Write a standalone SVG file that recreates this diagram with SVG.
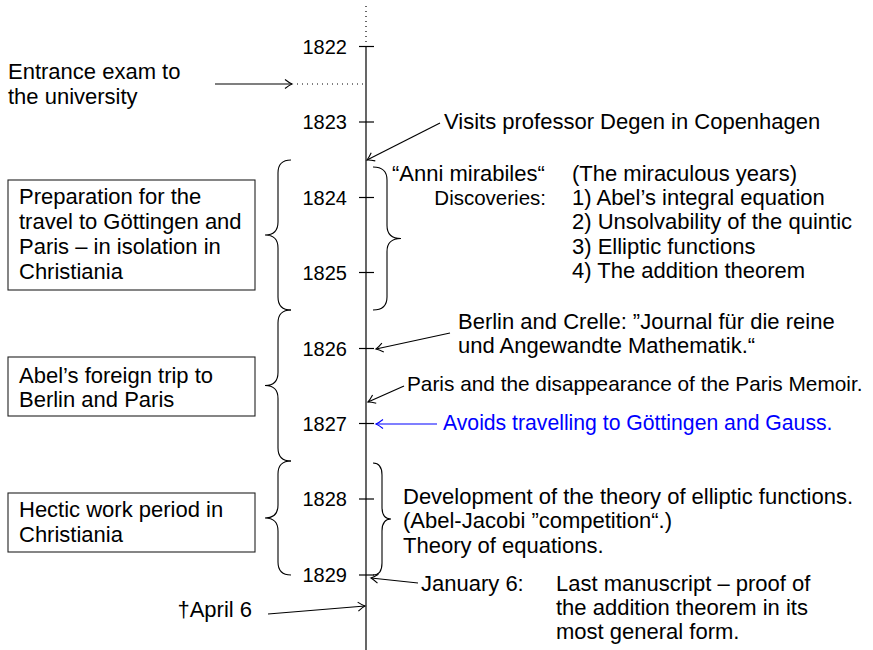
<svg xmlns="http://www.w3.org/2000/svg" width="873" height="650" viewBox="0 0 873 650">
<style>
text{font-family:"Liberation Sans",Arial,sans-serif;font-size:22px;fill:#000}
.yr{font-size:20px;text-anchor:end}
.end{text-anchor:end}
.blue{fill:#0000ff}
.ln{fill:none;stroke:#000;stroke-width:1.2}
.dot{fill:none;stroke:#000;stroke-width:1.2;stroke-dasharray:1 4}
.box{fill:#fff;stroke:#222;stroke-width:1.1}
.br{fill:none;stroke:#000;stroke-width:1.1}
</style>
<defs>
<marker id="ah" viewBox="-9 -6 11 12" refX="0" refY="0" markerWidth="11" markerHeight="12" orient="auto" markerUnits="userSpaceOnUse"><path d="M-7,-4.5 Q-2.5,-1 0,0 Q-2.5,1 -7,4.5" fill="none" stroke="#000" stroke-width="1.1"/></marker>
<marker id="ahb" viewBox="-9 -6 11 12" refX="0" refY="0" markerWidth="11" markerHeight="12" orient="auto" markerUnits="userSpaceOnUse"><path d="M-7,-4.5 Q-2.5,-1 0,0 Q-2.5,1 -7,4.5" fill="none" stroke="#0000ff" stroke-width="1.1"/></marker>
</defs>

<g id="timeline">
<line class="dot" x1="366" y1="6" x2="366" y2="46"/>
<line class="ln" x1="366" y1="46" x2="366" y2="650"/>
<g id="ticks" class="ln">
<line x1="359" y1="46.5" x2="374" y2="46.5"/>
<line x1="359" y1="122" x2="374" y2="122"/>
<line x1="359" y1="197.5" x2="374" y2="197.5"/>
<line x1="359" y1="272.5" x2="374" y2="272.5"/>
<line x1="359" y1="348.5" x2="374" y2="348.5"/>
<line x1="359" y1="423.5" x2="374" y2="423.5"/>
<line x1="359" y1="499" x2="374" y2="499"/>
<line x1="359" y1="575" x2="374" y2="575"/>
</g>
<text class="yr" x="347" y="53.5">1822</text>
<text class="yr" x="347" y="129">1823</text>
<text class="yr" x="347" y="204.5">1824</text>
<text class="yr" x="347" y="279.5">1825</text>
<text class="yr" x="347" y="355.5">1826</text>
<text class="yr" x="347" y="430.5">1827</text>
<text class="yr" x="347" y="506">1828</text>
<text class="yr" x="347" y="582">1829</text>
</g>

<g id="braces">
<path id="brace-left-1" class="br" d="M291,160 Q278,160 278,173 L278,222 Q278,235 265,235 Q278,235 278,248 L278,297 Q278,310 291,310"/>
<path id="brace-left-2" class="br" d="M291,310 Q278,310 278,323 L278,372.5 Q278,385.5 265,385.5 Q278,385.5 278,398.5 L278,448 Q278,461 291,461"/>
<path id="brace-left-3" class="br" d="M291,461 Q278,461 278,474 L278,505 Q278,518 265,518 Q278,518 278,531 L278,562 Q278,575 291,575"/>
<path id="brace-right-1" class="br" d="M373,167 Q387,167 387,180 L387,225.5 Q387,238.5 401,238.5 Q387,238.5 387,251.5 L387,297 Q387,310 373,310"/>
<path id="brace-right-2" class="br" d="M373,463 Q382,463 382,475 L382,507 Q382,519 391,519 Q382,519 382,531 L382,563 Q382,575 373,575"/>
</g>

<g id="entrance">
<text x="8" y="79">Entrance exam to</text>
<text x="8" y="104">the university</text>
</g>

<g id="box-preparation">
<rect class="box" x="8" y="180" width="247" height="110"/>
<text x="19" y="204">Preparation for the</text>
<text x="19" y="229">travel to Göttingen and</text>
<text x="19" y="254">Paris – in isolation in</text>
<text x="19" y="279">Christiania</text>
</g>

<g id="box-trip">
<rect class="box" x="8" y="357" width="247" height="59"/>
<text x="19" y="382.5">Abel’s foreign trip to</text>
<text x="19" y="407">Berlin and Paris</text>
</g>

<g id="box-hectic">
<rect class="box" x="8" y="493" width="247" height="59"/>
<text x="19" y="517">Hectic work period in</text>
<text x="19" y="542">Christiania</text>
</g>

<g id="visits">
<text x="444" y="129">Visits professor Degen in Copenhagen</text>
</g>

<g id="anni">
<text x="392" y="181">“Anni mirabiles“</text>
<text class="end" x="546" y="205" style="font-size:20.5px">Discoveries:</text>
<text x="572" y="181">(The miraculous years)</text>
<text x="572" y="205">1) Abel’s integral equation</text>
<text x="572" y="229.3">2) Unsolvability of the quintic</text>
<text x="572" y="253.7">3) Elliptic functions</text>
<text x="572" y="278">4) The addition theorem</text>
</g>

<g id="berlin">
<text x="458" y="329">Berlin and Crelle: ”Journal für die reine</text>
<text x="458" y="353">und Angewandte Mathematik.“</text>
</g>

<g id="paris">
<text x="407" y="391" style="font-size:20.8px">Paris and the disappearance of the Paris Memoir.</text>
</g>

<g id="avoids">
<text class="blue" x="443" y="430" style="font-size:21.2px">Avoids travelling to Göttingen and Gauss.</text>
</g>

<g id="development">
<text x="403" y="504">Development of the theory of elliptic functions.</text>
<text x="403" y="528">(Abel-Jacobi ”competition“.)</text>
<text x="403" y="553">Theory of equations.</text>
</g>

<g id="january">
<text x="421" y="591">January 6:</text>
<text x="556" y="591">Last manuscript – proof of</text>
<text x="556" y="615">the addition theorem in its</text>
<text x="556" y="639">most general form.</text>
</g>

<g id="april">
<text class="end" x="252" y="617">†April 6</text>
</g>

<g id="connectors">
<line class="ln" x1="215" y1="84" x2="292" y2="84" marker-end="url(#ah)"/>
<line class="dot" x1="297" y1="84" x2="364" y2="84"/>
<line class="ln" x1="440" y1="123" x2="367" y2="160" marker-end="url(#ah)"/>
<line class="ln" x1="450" y1="333" x2="376" y2="349" marker-end="url(#ah)"/>
<line class="ln" x1="404" y1="386" x2="368" y2="402" marker-end="url(#ah)"/>
<line x1="437" y1="424" x2="376" y2="424" fill="none" stroke="#0000ff" stroke-width="1.2" marker-end="url(#ahb)"/>
<line class="ln" x1="418" y1="583" x2="371" y2="578" marker-end="url(#ah)"/>
<line class="ln" x1="268" y1="614" x2="365" y2="606" marker-end="url(#ah)"/>
</g>
</svg>
